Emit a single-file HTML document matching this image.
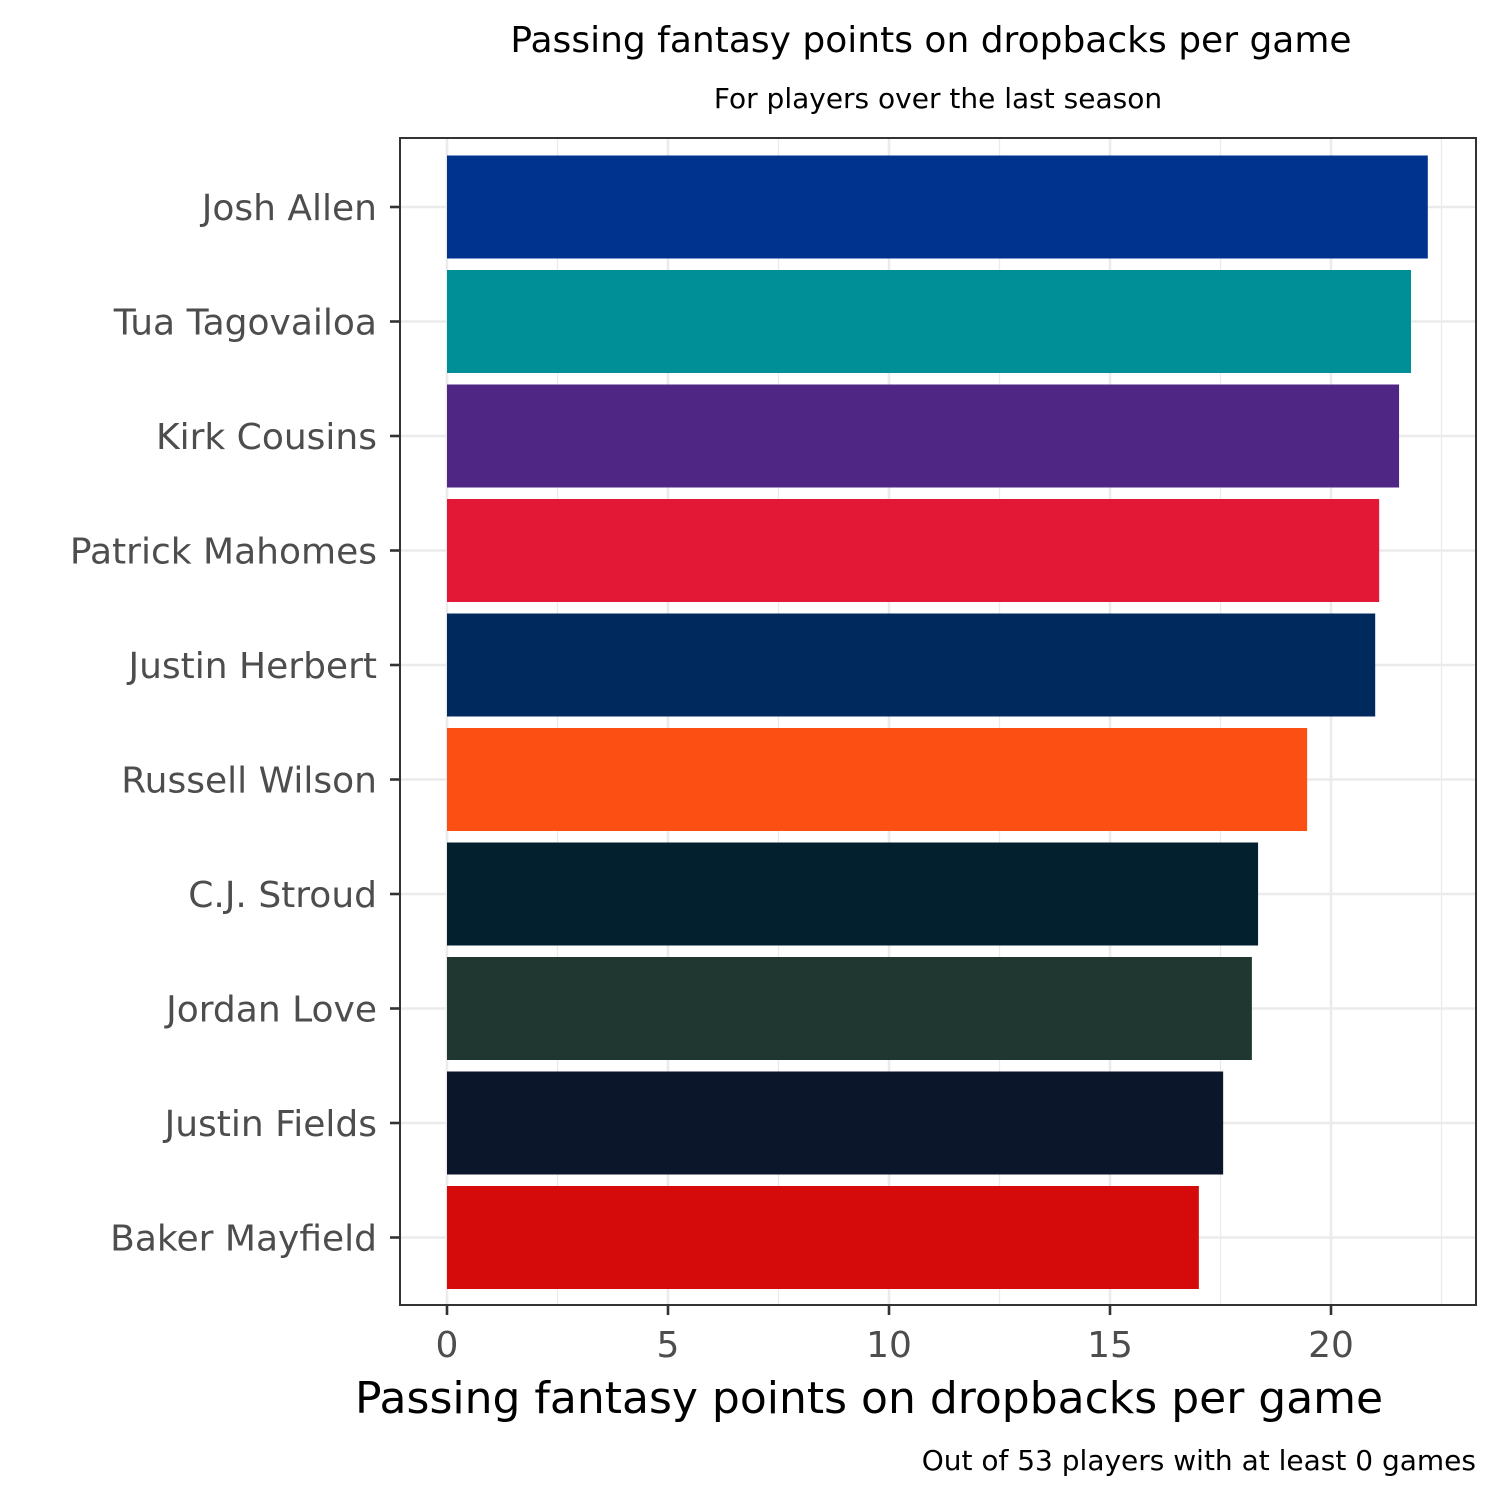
<!DOCTYPE html>
<html><head><meta charset="utf-8"><style>
body{margin:0;background:#fff}
svg text{font-family:"DejaVu Sans","Liberation Sans",sans-serif}
</style></head><body>
<svg id="chart" width="1500" height="1500" xmlns="http://www.w3.org/2000/svg">
<rect width="1500" height="1500" fill="#fff"/>
<text x="931" y="52" font-size="36" text-anchor="middle" fill="#000">Passing fantasy points on dropbacks per game</text>
<text x="938" y="108" font-size="28" text-anchor="middle" fill="#000">For players over the last season</text>
<g id="grid"></g><g id="bars"></g><g id="axes"></g>
<rect x="400" y="138" width="1076" height="1167" fill="none" stroke="#333" stroke-width="2"/>
<text x="355" y="1413" font-size="44" fill="#000">Passing fantasy points on dropbacks per game</text>
<text x="1476" y="1470" font-size="28" text-anchor="end" fill="#000">Out of 53 players with at least 0 games</text>
</svg>
<script>
const players=["Josh Allen","Tua Tagovailoa","Kirk Cousins","Patrick Mahomes","Justin Herbert","Russell Wilson","C.J. Stroud","Jordan Love","Justin Fields","Baker Mayfield"];
const values=[22.19,21.81,21.54,21.09,21.0,19.46,18.35,18.21,17.56,17.01];
const colors=["#00338D","#008E97","#4F2683","#E31837","#002A5E","#FB4F14","#03202F","#203731","#0B162A","#D50A0A"];
const xTicks=[0,5,10,15,20];
const NS="http://www.w3.org/2000/svg";
const x=v=>447+v*44.2;
const step=114.5, y=i=>207+i*step, bh=103;
const PL=400,PR=1476,PT=138,PB=1305;
function mk(tag,attrs,parent){const e=document.createElementNS(NS,tag);for(const k in attrs)e.setAttribute(k,attrs[k]);parent.appendChild(e);return e;}
const grid=document.getElementById('grid'),bars=document.getElementById('bars'),axes=document.getElementById('axes');
mk('rect',{x:PL,y:PT,width:PR-PL,height:PB-PT,fill:'#fff'},grid);
for(let t=2.5;t<=22.5;t+=5){const l=mk('line',{x1:x(t),x2:x(t),y1:PT,y2:PB,stroke:'#ebebeb','stroke-width':1.3},grid);

}
xTicks.forEach(t=>{const l=mk('line',{x1:x(t),x2:x(t),y1:PT,y2:PB,stroke:'#ebebeb','stroke-width':2.6},grid);


const tk=mk('line',{x1:x(t),x2:x(t),y1:PB,y2:PB+10,stroke:'#333','stroke-width':2.6},axes);


const tx=mk('text',{x:x(t),y:1357,'font-size':36,'text-anchor':'middle',fill:'#4d4d4d'},axes);tx.textContent=t;

});
players.forEach((p,i)=>{const g=mk('line',{x1:PL,x2:PR,y1:y(i),y2:y(i),stroke:'#ebebeb','stroke-width':2.6},grid);


const r=mk('rect',{x:x(0),y:y(i)-bh/2,width:x(values[i])-x(0),height:bh,fill:colors[i]},bars);


const tk=mk('line',{x1:PL-10,x2:PL,y1:y(i),y2:y(i),stroke:'#333','stroke-width':2.6},axes);


const tx=mk('text',{x:377,y:y(i)+13,'font-size':36,'text-anchor':'end',fill:'#4d4d4d'},axes);tx.textContent=p;

});
</script>
</body></html>
